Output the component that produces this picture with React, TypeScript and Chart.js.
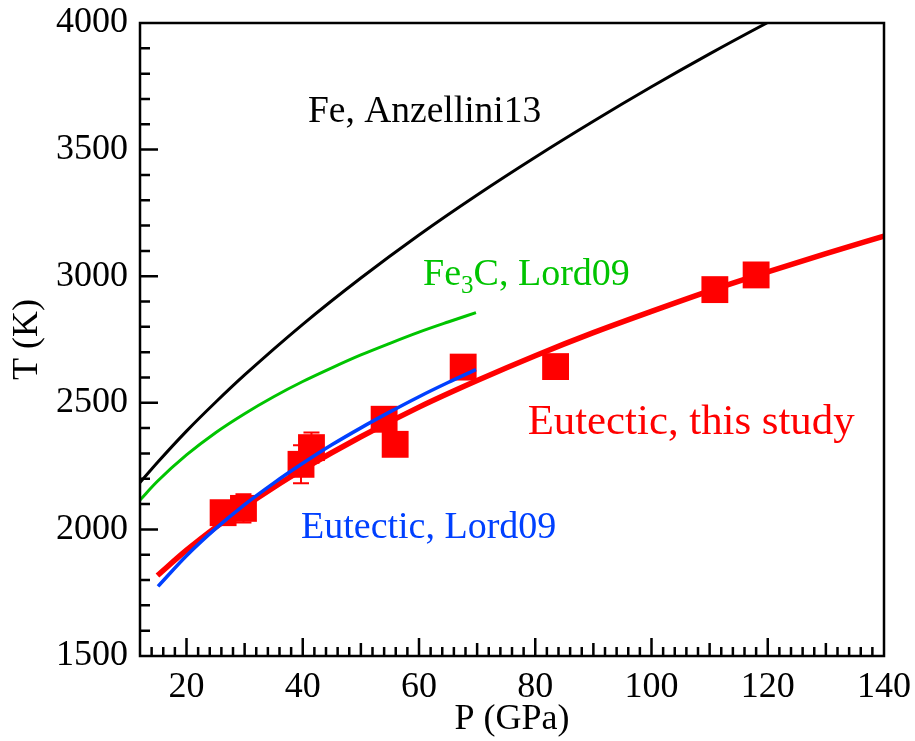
import { useEffect, useRef } from "react";
import { Chart, registerables } from "chart.js";

Chart.register(...registerables);

const FONT = '"Liberation Serif", "Times New Roman", serif';

// Fe melting curve (Anzellini et al. 2013)
const feP = [12, 15, 20, 25, 30, 40, 50, 60, 70, 80, 90, 100, 110, 120, 125];
const feT = [2185, 2264, 2388, 2502, 2610, 2810, 2993, 3163, 3321, 3470, 3612, 3748, 3878, 4002, 4062];

// Fe3C melting curve (Lord et al. 2009)
const fe3cP = [12, 15, 20, 25, 30, 35, 40, 45, 50, 55, 60, 65, 69.8];
const fe3cT = [2116, 2190, 2294, 2382, 2457, 2524, 2584, 2638, 2689, 2735, 2779, 2819, 2856];

// Fe–Fe3C eutectic (Lord et al. 2009)
const lordEutP = [15.1, 20, 25, 30, 35, 40, 45, 50, 55, 60, 65, 69.8];
const lordEutT = [1775, 1896, 2003, 2098, 2183, 2261, 2334, 2401, 2464, 2524, 2580, 2631];

// Eutectic melting curve fitted in this study
const fitP = [15, 20, 25, 30, 35, 40, 50, 60, 70, 80, 90, 100, 110, 120, 130, 140];
const fitT = [1818, 1918, 2008, 2090, 2166, 2237, 2366, 2483, 2588, 2686, 2777, 2861, 2942, 3017, 3089, 3158];

// Measured eutectic temperatures with uncertainties (0 = within the symbol)
const measP = [26.3, 29.8, 39.7, 41.5, 54.0, 55.9, 67.6, 83.5, 110.9, 118.0];
const measT = [2066, 2083, 2257, 2323, 2435, 2336, 2641, 2643, 2947, 3005];
const measErr = [0, 56, 75, 60, 0, 0, 0, 0, 0, 0];

// Axis ticks
const xTicks = [20, 40, 60, 80, 100, 120, 140];
const yTicks = [1500, 2000, 2500, 3000, 3500, 4000];
const xMinorStep = 2;
const yMinorStep = 100;

const RED = "#ff0000";
const BLUE = "#0040ff";
const GREEN = "#00c400";

const pts = (xs: number[], ys: number[]) => xs.map((v, i) => ({ x: v, y: ys[i] }));

// Curve labels, anchored in data units (left edge, baseline)
const curveLabels = [
  { parts: [{ t: "Fe, Anzellini13", size: 37.5 }], p: 40.9, T: 3610, color: "#000" },
  {
    parts: [
      { t: "Fe", size: 38 },
      { t: "3", size: 25, sub: 8 },
      { t: "C, Lord09", size: 38 },
    ],
    p: 60.7,
    T: 2965,
    color: GREEN,
  },
  { parts: [{ t: "Eutectic, this study", size: 42.8 }], p: 78.7, T: 2376, color: RED },
  { parts: [{ t: "Eutectic, Lord09", size: 38 }], p: 39.7, T: 1967, color: BLUE },
];

const errorBars = {
  id: "errorBars",
  beforeDatasetsDraw(chart: any) {
    const { ctx, scales } = chart;
    const { x, y } = scales;
    ctx.save();
    ctx.strokeStyle = RED;
    ctx.lineWidth = 2;
    measP.forEach((p, i) => {
      const e = measErr[i];
      if (!e) return;
      const px = x.getPixelForValue(p);
      const top = y.getPixelForValue(measT[i] + e);
      const bot = y.getPixelForValue(measT[i] - e);
      ctx.beginPath();
      ctx.moveTo(px, top);
      ctx.lineTo(px, bot);
      ctx.moveTo(px - 8, top);
      ctx.lineTo(px + 8, top);
      ctx.moveTo(px - 8, bot);
      ctx.lineTo(px + 8, bot);
      ctx.stroke();
    });
    ctx.restore();
  },
};

const frameAndLabels = {
  id: "frameAndLabels",
  afterDraw(chart: any) {
    const { ctx, chartArea: a, scales } = chart;
    const { x, y } = scales;
    ctx.save();

    // curve labels
    ctx.textBaseline = "alphabetic";
    ctx.textAlign = "left";
    curveLabels.forEach((lab) => {
      let px = x.getPixelForValue(lab.p);
      const py = y.getPixelForValue(lab.T);
      ctx.fillStyle = lab.color;
      lab.parts.forEach((part: any) => {
        ctx.font = `${part.size}px ${FONT}`;
        ctx.fillText(part.t, px, py + (part.sub || 0));
        px += ctx.measureText(part.t).width;
      });
    });

    // inward tick marks on bottom and left axes
    ctx.strokeStyle = "#000";
    ctx.lineWidth = 2.5;
    ctx.beginPath();
    const xMin = x.min, xMax = x.max;
    for (let v = Math.ceil(xMin / xMinorStep) * xMinorStep; v < xMax; v += xMinorStep) {
      if (v <= xMin) continue;
      const px = x.getPixelForValue(v);
      const len = v % 20 === 0 ? 18 : v % 10 === 0 ? 13 : 9;
      ctx.moveTo(px, a.bottom);
      ctx.lineTo(px, a.bottom - len);
    }
    const yMin = y.min, yMax = y.max;
    for (let v = Math.ceil(yMin / yMinorStep) * yMinorStep; v < yMax; v += yMinorStep) {
      if (v <= yMin) continue;
      const py = y.getPixelForValue(v);
      const len = v % 500 === 0 ? 18 : 10;
      ctx.moveTo(a.left, py);
      ctx.lineTo(a.left + len, py);
    }
    ctx.stroke();

    // plot frame
    ctx.lineWidth = 2.5;
    ctx.strokeRect(a.left, a.top, a.right - a.left, a.bottom - a.top);
    ctx.restore();
  },
};

export default function App() {
  const canvasRef = useRef<HTMLCanvasElement | null>(null);

  useEffect(() => {
    const canvas = canvasRef.current;
    if (!canvas) return;
    const tickFont = { family: FONT, size: 36, lineHeight: 1 };
    const chart = new Chart(canvas, {
      type: "scatter",
      data: {
        datasets: [
          {
            label: "Eutectic, Lord09",
            data: pts(lordEutP, lordEutT),
            showLine: true,
            borderColor: BLUE,
            borderWidth: 3.5,
            pointRadius: 0,
            cubicInterpolationMode: "monotone",
          },
          {
            label: "Eutectic, this study (fit)",
            data: pts(fitP, fitT),
            showLine: true,
            borderColor: RED,
            borderWidth: 5.5,
            pointRadius: 0,
            cubicInterpolationMode: "monotone",
          },
          {
            label: "Eutectic, this study",
            data: pts(measP, measT),
            showLine: false,
            pointStyle: "rect",
            pointRadius: 19,
            pointBorderWidth: 0,
            backgroundColor: RED,
            borderColor: RED,
          },
          {
            label: "Fe3C, Lord09",
            data: pts(fe3cP, fe3cT),
            showLine: true,
            borderColor: GREEN,
            borderWidth: 3,
            pointRadius: 0,
            cubicInterpolationMode: "monotone",
          },
          {
            label: "Fe, Anzellini13",
            data: pts(feP, feT),
            showLine: true,
            borderColor: "#000",
            borderWidth: 3,
            pointRadius: 0,
            cubicInterpolationMode: "monotone",
          },
        ],
      },
      options: {
        animation: false,
        responsive: false,
        events: [],
        layout: { padding: { top: 23, right: 31, left: 0, bottom: 0 } },
        plugins: { legend: { display: false }, tooltip: { enabled: false } },
        scales: {
          x: {
            type: "linear",
            min: 12,
            max: 140,
            grid: { display: false, drawTicks: false },
            border: { display: false },
            afterBuildTicks: (s: any) => {
              s.ticks = xTicks.map((v) => ({ value: v }));
            },
            afterFit: (s: any) => {
              s.height = 85;
              s.paddingLeft = 0;
              s.paddingRight = 0;
            },
            ticks: {
              color: "#000",
              font: tickFont,
              padding: 14,
              maxRotation: 0,
              autoSkip: false,
              callback: (v: any) => String(v),
            },
            title: {
              display: true,
              text: "P (GPa)",
              color: "#000",
              font: tickFont,
              padding: { top: 0, bottom: 3 },
            },
          },
          y: {
            type: "linear",
            min: 1500,
            max: 4000,
            grid: { display: false, drawTicks: false },
            border: { display: false },
            afterBuildTicks: (s: any) => {
              s.ticks = yTicks.map((v) => ({ value: v }));
            },
            afterFit: (s: any) => {
              s.width = 140;
              s.paddingTop = 0;
              s.paddingBottom = 0;
            },
            ticks: {
              color: "#000",
              font: tickFont,
              padding: 12,
              autoSkip: false,
              callback: (v: any) => String(v),
            },
            title: {
              display: true,
              text: "T (K)",
              color: "#000",
              font: tickFont,
              padding: { top: 10, bottom: 0 },
            },
          },
        },
      },
      plugins: [errorBars, frameAndLabels],
    } as any);
    return () => chart.destroy();
  }, []);

  return (
    <div style={{ position: "fixed", left: 0, top: 0, width: 915, height: 741, background: "#fff" }}>
      <canvas ref={canvasRef} width={915} height={741} />
    </div>
  );
}
